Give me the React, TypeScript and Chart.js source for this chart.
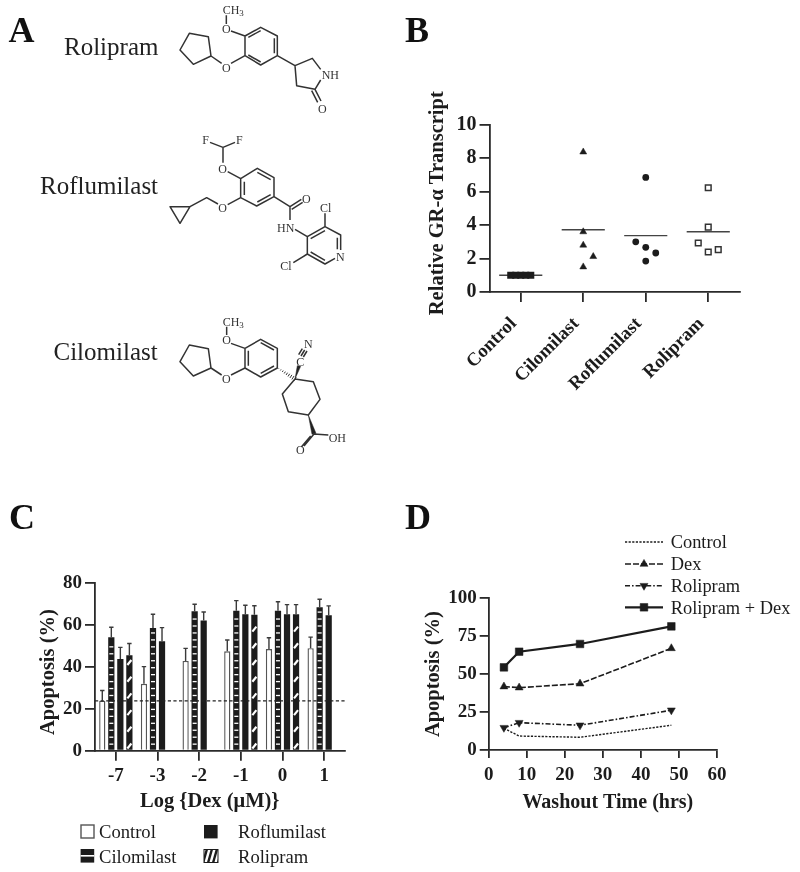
import React, { useEffect, useRef } from "react";
import { Chart, registerables } from "chart.js";
import { drawPoint } from "chart.js/helpers";

Chart.register(...registerables);

const SERIF = '"Liberation Serif", "Times New Roman", serif';
const INK = "#1c1c1c";

/* ---------- Panel B data ---------- */
const transcriptCategories = ["Control", "Cilomilast", "Roflumilast", "Rolipram"];
const controlTranscript = [1, 1, 1, 1, 1];
const controlSpread = [-0.16, -0.08, 0, 0.08, 0.16];
const cilomilastTranscript = [8.37, 3.6, 2.8, 2.12, 1.5];
const cilomilastSpread = [0, 0, 0, 0.16, 0];
const roflumilastTranscript = [6.85, 3.0, 2.67, 2.33, 1.85];
const roflumilastSpread = [0, -0.16, 0, 0.16, 0];
const rolipramTranscript = [6.23, 3.88, 2.93, 2.53, 2.39];
const rolipramSpread = [0, 0, -0.16, 0.16, 0];
const transcriptMeans = [1, 3.72, 3.37, 3.6];

/* ---------- Panel C data ---------- */
const dexDoses = ["-7", "-3", "-2", "-1", "0", "1"];
const controlApoptosis = [23.9, 32, 42.9, 47.5, 48.6, 49];
const controlApoptosisUpper = [28.8, 40.2, 48.9, 52.9, 54, 54.3];
const cilomilastApoptosis = [54.2, 58.6, 66.6, 66.9, 66.9, 68.5];
const cilomilastApoptosisUpper = [59, 65.2, 70, 71.7, 71.2, 72.4];
const roflumilastApoptosis = [43.8, 52.3, 62.2, 65.2, 65.2, 64.7];
const roflumilastApoptosisUpper = [49.4, 58.8, 66.3, 69.5, 69.8, 69.2];
const rolipramApoptosis = [45.6, null, null, 65, 65.2, null];
const rolipramApoptosisUpper = [51.2, null, null, 69.3, 69.8, null];
const apoptosisBaseline = 23.8;

/* ---------- Panel D data ---------- */
const washoutHours = [4, 8, 24, 48];
const washoutControl = [14.3, 9.2, 8.4, 16.3];
const washoutDex = [41.8, 41.1, 43.7, 67];
const washoutRolipram = [14.7, 18, 16.3, 26.2];
const washoutRolipramDex = [54.5, 64.8, 69.9, 81.5];

/* ---------- shared axis helpers ---------- */
const tickFont = (size: number) => ({ family: SERIF, size, weight: "bold" as const });
const axisGrid = (tickLength: number) => ({
  drawOnChartArea: false,
  color: "#2a2a2a",
  tickColor: "#2a2a2a",
  tickWidth: 1.8,
  lineWidth: 1.8,
  tickLength,
});
const axisBorder = { color: "#2a2a2a", width: 1.8 };
const noPlugins = { legend: { display: false }, tooltip: { enabled: false }, title: { display: false } };

function useChart(build: () => any) {
  const ref = useRef<HTMLCanvasElement | null>(null);
  useEffect(() => {
    if (!ref.current) return;
    const c = new Chart(ref.current, build());
    return () => c.destroy();
  }, []);
  return ref;
}

const pairs = (vals: number[], spread: number[], i: number) =>
  vals.map((y, k) => ({ x: i + 0.5 + spread[k], y }));
const meanLine = (i: number) => [
  { x: i + 0.5 - 0.345, y: transcriptMeans[i] },
  { x: i + 0.5 + 0.345, y: transcriptMeans[i] },
];

/* ---------- Panel B ---------- */
function PanelB() {
  const ref = useChart(() => {
    const meanDs = (i: number) => ({
      label: transcriptCategories[i] + " mean",
      data: meanLine(i),
      showLine: true,
      pointRadius: 0,
      borderColor: "#444",
      borderWidth: 1.4,
      order: 2,
    });
    const pts = (i: number, vals: number[], spread: number[], style: string, radius: number, fill: string, stroke: string, bw: number) => ({
      label: transcriptCategories[i],
      data: pairs(vals, spread, i),
      pointStyle: style,
      pointRadius: radius,
      backgroundColor: fill,
      borderColor: stroke,
      borderWidth: bw,
      showLine: false,
      order: 1,
    });
    return {
      type: "scatter",
      data: {
        datasets: [
          meanDs(0), meanDs(1), meanDs(2), meanDs(3),
          pts(0, controlTranscript, controlSpread, "rect", 5, INK, INK, 0),
          pts(1, cilomilastTranscript, cilomilastSpread, "triangle", 4, INK, INK, 0.5),
          pts(2, roflumilastTranscript, roflumilastSpread, "circle", 3.4, INK, INK, 0),
          pts(3, rolipramTranscript, rolipramSpread, "rect", 4, "#fff", "#333", 1.5),
        ],
      },
      options: {
        responsive: false,
        animation: false,
        layout: { padding: { left: 19.5, right: 60.5, top: 44.7, bottom: 18 } },
        plugins: noPlugins,
        scales: {
          x: {
            type: "linear",
            min: 0,
            max: 4,
            afterFit: (s: any) => { s.height = 100; },
            afterBuildTicks: (s: any) => { s.ticks = transcriptCategories.map((_, i) => ({ value: i + 0.5 })); },
            grid: axisGrid(10),
            border: axisBorder,
            ticks: {
              autoSkip: false,
              minRotation: 45,
              maxRotation: 45,
              padding: 11,
              labelOffset: -7,
              color: INK,
              font: tickFont(18.8),
              callback: (_: any, i: number) => transcriptCategories[i],
            },
          },
          y: {
            min: 0,
            max: 10,
            afterFit: (s: any) => { s.width = 70; },
            grid: axisGrid(10),
            border: axisBorder,
            ticks: { stepSize: 2, padding: 3, color: INK, font: tickFont(20) },
            title: {
              display: true,
              text: "  Relative GR-\u03b1 Transcript",
              color: INK,
              font: tickFont(20.5),
              padding: { top: 5.5, bottom: 0 },
            },
          },
        },
      },
    };
  });
  return <canvas ref={ref} width={400} height={330} style={{ position: "absolute", left: 400, top: 80 }} />;
}

/* ---------- Panel C ---------- */
function PanelC() {
  const ref = useChart(() => {
    const uppers = [controlApoptosisUpper, cilomilastApoptosisUpper, roflumilastApoptosisUpper, rolipramApoptosisUpper];
    const barOverlay = {
      id: "barOverlay",
      afterDatasetsDraw(chart: any) {
        const { ctx, scales } = chart;
        const base = scales.y.getPixelForValue(0);
        ctx.save();
        // white dashes in the Cilomilast bars
        chart.getDatasetMeta(1).data.forEach((b: any) => {
          ctx.fillStyle = "#fff";
          for (let y = base - 7.2; y > b.y + 2; y -= 6.95) ctx.fillRect(b.x - 2, y, 4, 1.3);
        });
        // white slashes in the Rolipram bars
        chart.getDatasetMeta(3).data.forEach((b: any, j: number) => {
          if (rolipramApoptosis[j] == null) return;
          ctx.strokeStyle = "#fff";
          ctx.lineWidth = 2.2;
          for (let y = base - 4.7; y > b.y + 3; y -= 16.7) {
            ctx.beginPath();
            ctx.moveTo(b.x - 2, y + 2.5);
            ctx.lineTo(b.x + 2, y - 2.5);
            ctx.stroke();
          }
        });
        // upper error bars
        ctx.strokeStyle = "#3a3a3a";
        ctx.lineWidth = 1.4;
        uppers.forEach((u, i) => {
          chart.getDatasetMeta(i).data.forEach((b: any, j: number) => {
            if (u[j] == null) return;
            const top = scales.y.getPixelForValue(u[j]);
            ctx.beginPath();
            ctx.moveTo(b.x, b.y);
            ctx.lineTo(b.x, top);
            ctx.moveTo(b.x - 2.2, top);
            ctx.lineTo(b.x + 2.2, top);
            ctx.stroke();
          });
        });
        // dashed reference line
        const yRef = scales.y.getPixelForValue(apoptosisBaseline);
        ctx.strokeStyle = "#222";
        ctx.lineWidth = 1.2;
        ctx.setLineDash([3.2, 2.4]);
        ctx.beginPath();
        ctx.moveTo(chart.chartArea.left, yRef);
        ctx.lineTo(chart.chartArea.right + 1, yRef);
        ctx.stroke();
        ctx.restore();
      },
    };
    const legendC = {
      id: "legendC",
      afterDraw(chart: any) {
        const { ctx } = chart;
        const ds = chart.data.datasets;
        ctx.save();
        ctx.font = `18.6px ${SERIF}`;
        ctx.fillStyle = INK;
        ctx.fillText(ds[0].label, 99, 278);
        ctx.fillText(ds[2].label, 238, 278);
        ctx.fillText(ds[1].label, 99, 302.7);
        ctx.fillText(ds[3].label, 238, 302.7);
        // Control
        ctx.fillStyle = "#fff";
        ctx.strokeStyle = "#555";
        ctx.lineWidth = 1.4;
        ctx.fillRect(81, 265, 13, 13);
        ctx.strokeRect(81, 265, 13, 13);
        // Roflumilast
        ctx.fillStyle = INK;
        ctx.fillRect(204, 265, 13.6, 13.4);
        // Cilomilast
        ctx.fillRect(80.6, 289, 13.6, 13.6);
        ctx.fillStyle = "#fff";
        ctx.fillRect(80.6, 295, 13.6, 1.6);
        // Rolipram
        ctx.strokeStyle = INK;
        ctx.lineWidth = 1;
        ctx.strokeRect(204, 289.5, 14, 13);
        ctx.lineWidth = 2.4;
        ctx.save();
        ctx.beginPath();
        ctx.rect(204, 289.5, 14, 13);
        ctx.clip();
        for (let x = 203; x < 222; x += 5) {
          ctx.beginPath();
          ctx.moveTo(x, 303);
          ctx.lineTo(x + 4, 289);
          ctx.stroke();
        }
        ctx.restore();
        ctx.restore();
      },
    };
    return {
      type: "bar",
      data: {
        labels: dexDoses,
        datasets: [
          { label: "Control", data: controlApoptosis, backgroundColor: "#fff", borderColor: "#555", borderWidth: 1.4 },
          { label: "Cilomilast", data: cilomilastApoptosis, backgroundColor: INK },
          { label: "Roflumilast", data: roflumilastApoptosis, backgroundColor: INK },
          { label: "Rolipram", data: rolipramApoptosis, backgroundColor: INK },
        ],
      },
      plugins: [barOverlay, legendC],
      options: {
        responsive: false,
        animation: false,
        categoryPercentage: 0.867,
        barPercentage: 0.69,
        layout: { padding: { left: 25, right: 55, top: 23.3, bottom: 58.3 } },
        plugins: noPlugins,
        scales: {
          x: {
            afterFit: (s: any) => { s.height = 63; },
            grid: { ...axisGrid(10), offset: false },
            border: axisBorder,
            ticks: { padding: 4, color: INK, font: tickFont(19), autoSkip: false, maxRotation: 0 },
            title: {
              display: true,
              text: "Log {Dex (\u03bcM)}    ",
              color: INK,
              font: tickFont(20.5),
              padding: { top: 0, bottom: 0 },
            },
          },
          y: {
            min: 0,
            max: 80,
            afterFit: (s: any) => { s.width = 70; },
            grid: axisGrid(10),
            border: axisBorder,
            ticks: { stepSize: 20, padding: 3, color: INK, font: tickFont(19) },
            title: {
              display: true,
              text: "Apoptosis (%)  ",
              color: INK,
              font: tickFont(20.5),
              padding: { top: 11, bottom: 0 },
            },
          },
        },
      },
    };
  });
  return <canvas ref={ref} width={400} height={312} style={{ position: "absolute", left: 0, top: 560 }} />;
}

/* ---------- Panel D ---------- */
function PanelD() {
  const ref = useChart(() => {
    const toXY = (vals: number[]) => vals.map((y, i) => ({ x: washoutHours[i], y }));
    const legendD = {
      id: "legendD",
      afterDraw(chart: any) {
        const { ctx } = chart;
        const rows = [22, 44, 65.7, 87.3];
        chart.data.datasets.forEach((d: any, i: number) => {
          const y = rows[i];
          ctx.save();
          ctx.strokeStyle = d.borderColor;
          ctx.lineWidth = d.borderWidth;
          ctx.setLineDash(d.borderDash || []);
          ctx.beginPath();
          ctx.moveTo(225, y);
          ctx.lineTo(263, y);
          ctx.stroke();
          ctx.setLineDash([]);
          if (d.pointRadius > 0) {
            ctx.fillStyle = d.backgroundColor;
            ctx.strokeStyle = d.backgroundColor;
            ctx.lineWidth = 0.5;
            drawPoint(ctx, { pointStyle: d.pointStyle, rotation: d.pointRotation || 0, radius: d.pointRadius, borderWidth: 0.5 }, 244, y);
          }
          ctx.fillStyle = INK;
          ctx.font = `18.4px ${SERIF}`;
          ctx.fillText(d.label, 270.7, y + 6.2);
          ctx.restore();
        });
      },
    };
    const line = (label: string, vals: number[], dash: number[], width: number, style: any, radius: number, rotation = 0) => ({
      label,
      data: toXY(vals),
      showLine: true,
      borderColor: INK,
      backgroundColor: INK,
      borderWidth: width,
      borderDash: dash,
      pointStyle: style,
      pointRadius: radius,
      pointRotation: rotation,
      pointBorderWidth: 0.5,
      tension: 0,
    });
    return {
      type: "scatter",
      data: {
        datasets: [
          line("Control", washoutControl, [2.2, 1.4], 1.4, false, 0),
          line("Dex", washoutDex, [6, 2], 1.6, "triangle", 4.6),
          line("Rolipram", washoutRolipram, [5, 2, 1.6, 2], 1.6, "triangle", 4.6, 180),
          line("Rolipram + Dex", washoutRolipramDex, [], 2.2, "rect", 5.4),
        ],
      },
      plugins: [legendD],
      options: {
        responsive: false,
        animation: false,
        layout: { padding: { left: 18.7, right: 83, top: 78.3, bottom: 5 } },
        plugins: noPlugins,
        scales: {
          x: {
            type: "linear",
            min: 0,
            max: 60,
            afterFit: (s: any) => { s.height = 65; },
            grid: axisGrid(8),
            border: axisBorder,
            ticks: { stepSize: 10, padding: 6, color: INK, font: tickFont(19), maxRotation: 0 },
            title: {
              display: true,
              text: "  Washout Time (hrs)",
              color: INK,
              font: tickFont(20),
              padding: { top: 0, bottom: 0 },
            },
          },
          y: {
            min: 0,
            max: 100,
            afterFit: (s: any) => { s.width = 70; },
            grid: axisGrid(9),
            border: axisBorder,
            ticks: { stepSize: 25, padding: 3, color: INK, font: tickFont(19) },
            title: {
              display: true,
              text: "Apoptosis (%)",
              color: INK,
              font: tickFont(20.5),
              padding: { top: 3, bottom: 0 },
            },
          },
        },
      },
    };
  });
  return <canvas ref={ref} width={400} height={300} style={{ position: "absolute", left: 400, top: 520 }} />;
}

/* ---------- Panel A: chemical structures (line art in a 3x drawing space) ---------- */
const Atom = ({ x, y, t }: { x: number; y: number; t: string }) => (
  <text x={x} y={y} dy=".35em" textAnchor="middle">{t}</text>
);
const Methyl = ({ x, y }: { x: number; y: number }) => (
  <text x={x} y={y}>CH<tspan dy="6" fontSize="27">3</tspan></text>
);

function hashBond(x0: number, y0: number, x1: number, y1: number, n: number) {
  const dx = x1 - x0, dy = y1 - y0, len = Math.hypot(dx, dy);
  const nx = -dy / len, ny = dx / len;
  let d = "";
  for (let i = 0; i < n; i++) {
    const f = i / (n - 1);
    const h = 1 + (1 - f) * 6;
    const px = x0 + dx * f, py = y0 + dy * f;
    d += `M${px + nx * h} ${py + ny * h}L${px - nx * h} ${py - ny * h}`;
  }
  return d;
}

function PanelA() {
  const bondStyle = { fill: "none", stroke: "#333", strokeWidth: 4.5, strokeLinejoin: "round" as const };
  const textStyle = { fontFamily: SERIF, fontSize: 36, fill: "#333" };
  return (
    <svg width={800} height={872} style={{ position: "absolute", left: 0, top: 0, pointerEvents: "none" }}>
      <g fontFamily={SERIF} fontWeight="bold" fontSize={36} fill="#111">
        <text x={8.5} y={41.5}>A</text>
        <text x={405} y={41.5}>B</text>
        <text x={9} y={529}>C</text>
        <text x={405} y={529}>D</text>
      </g>
      <g fontFamily={SERIF} fontSize={25} fill="#222">
        <text x={64} y={54.5}>Rolipram</text>
        <text x={40} y={193.5}>Roflumilast</text>
        <text x={53.5} y={360}>Cilomilast</text>
      </g>

      {/* Rolipram */}
      <g transform="scale(0.33333)">
        <path {...bondStyle} d="M568 100L625 110L633 168L580 193L540 150Z M633 168L665 190 M693 190L735 167 M735 167L782 195L832 167L832 108L782 82L735 108Z M745 112L782 92 M823 115L823 160 M745 165L782 186 M693 93L735 108 M679 72L679 46 M832 167L885 197L937 175L962 208 M962 240L945 268L890 257L885 197 M945 268L963 303 M935 272L953 307" />
        <g {...textStyle}>
          <Atom x={679} y={87} t="O" />
          <Atom x={679} y={203} t="O" />
          <Atom x={991} y={223} t="NH" />
          <Atom x={967} y={325} t="O" />
          <Methyl x={668} y={43} />
        </g>
      </g>

      {/* Roflumilast */}
      <g transform="translate(0,130) scale(0.33333)">
        <path {...bondStyle} d="M630 37L669 52L705 37 M669 52L669 98 M683 125L722 146 M722 146L722 203L770 228L822 200L822 143L772 115Z M733 155L733 195 M772 216L812 194 M772 127L812 149 M722 203L683 224 M654 222L620 203L570 230 M570 230L510 230L540 280Z M822 200L870 230 M870 230L904 208 M875 238L908 217 M870 230L870 270 M885 298L922 320L975 290L1022 315L1022 360 M1005 385L975 402L922 372L922 320 M932 326L975 302 M932 366L975 391 M1012 323L1012 358 M975 250L975 290 M880 398L922 372" />
        <g {...textStyle}>
          <Atom x={617} y={30} t="F" />
          <Atom x={718} y={30} t="F" />
          <Atom x={668} y={117} t="O" />
          <Atom x={668} y={233} t="O" />
          <Atom x={919} y={205} t="O" />
          <Atom x={857} y={293} t="HN" />
          <Atom x={1021} y={379} t="N" />
          <Atom x={977} y={234} t="Cl" />
          <Atom x={858} y={408} t="Cl" />
        </g>
      </g>

      {/* Cilomilast */}
      <g transform="translate(0,300) scale(0.33333)">
        <path {...bondStyle} d="M568 135L625 146L633 204L580 228L540 185Z M633 204L665 225 M693 225L735 204 M735 204L782 231L832 204L832 145L782 118L735 145Z M745 152L745 197 M782 128L822 150 M782 220L822 198 M693 130L735 145 M680 105L680 80 M903 168L914 150 M896 164L907 146 M910 171L921 153 M885 237L940 245L960 298L925 345L865 335L847 282L885 237 M942 402L985 405 M942 402L912 438 M932 408L904 441" />
        <path d={hashBond(885, 237, 836, 206, 9)} fill="none" stroke="#333" strokeWidth={3} />
        <path d="M885 237L892 197L902 199Z M925 345L936 403L948 400Z" fill="#222" stroke="#222" strokeWidth={1.5} />
        <g {...textStyle}>
          <Atom x={680} y={120} t="O" />
          <Atom x={679} y={237} t="O" />
          <Atom x={901} y={185} t="C" />
          <Atom x={925} y={131} t="N" />
          <Atom x={1012} y={413} t="OH" />
          <Atom x={901} y={449} t="O" />
          <Methyl x={668} y={78} />
        </g>
      </g>
    </svg>
  );
}

export default function App() {
  return (
    <div style={{ position: "relative", width: 800, height: 872, background: "#fff", overflow: "hidden" }}>
      <style>{"html,body{margin:0;padding:0;background:#fff}"}</style>
      <PanelB />
      <PanelC />
      <PanelD />
      <PanelA />
    </div>
  );
}
